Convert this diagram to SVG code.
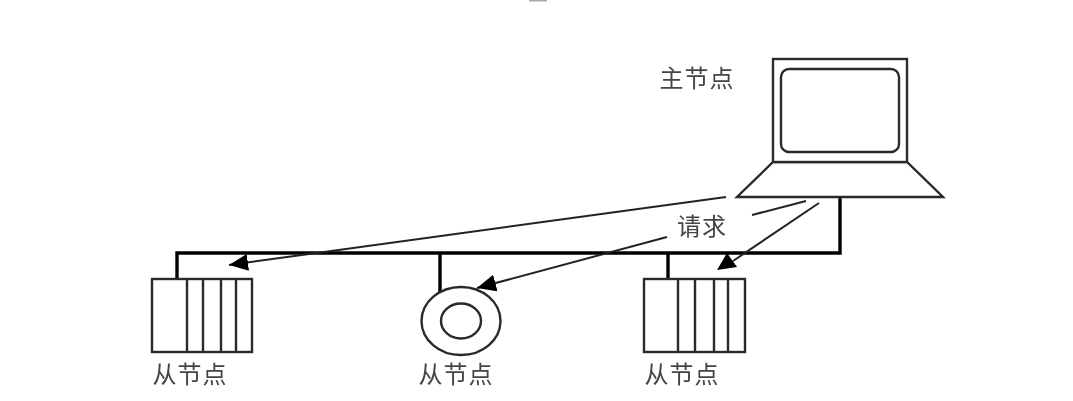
<svg xmlns="http://www.w3.org/2000/svg" width="1073" height="401" viewBox="0 0 1073 401">
  <style>
    .o { fill: #fff; stroke: #2a2a2a; stroke-width: 2.4; }
    .f { fill: none; stroke: #2a2a2a; stroke-width: 2.4; }
    .bus { fill: none; stroke: #000; stroke-width: 3.4; }
    .arr { fill: none; stroke: #222; stroke-width: 2; }
    text { font-family: "Noto Sans CJK SC", "Noto Sans", sans-serif; font-size: 24px; letter-spacing: 1px; fill: #444; text-anchor: middle; }
  </style>
  <defs>
    <filter id="soft" x="-5%" y="-5%" width="110%" height="110%"><feGaussianBlur stdDeviation="0.6"/></filter>
    <marker id="head" markerUnits="userSpaceOnUse" markerWidth="20" markerHeight="18" refX="19" refY="8.5" orient="auto">
      <path d="M0 0L19 8.5L0 17Z" fill="#000"/>
    </marker>
  </defs>
  <rect width="1073" height="401" fill="#fff"/>
  <g filter="url(#soft)">
    <rect x="529" y="0" width="18" height="1.5" fill="#aaa"/>
    <g id="connectors">
      <path class="bus" d="M840 197V253H177V279M440 253V293M668 253V279"/>
      <path class="arr" d="M726 197L229 265" marker-end="url(#head)"/>
      <path class="arr" d="M806 201L752 215"/>
      <path class="arr" d="M667 237L477 288" marker-end="url(#head)"/>
      <path class="arr" d="M819 203L733 261"/>
      <path d="M727 253L717 270L737 267Z" fill="#000"/>
    </g>
    <g id="master">
      <path class="o" d="M773 162L907 162L943 197H737Z"/>
      <rect class="o" x="773" y="59" width="134" height="103"/>
      <rect class="f" x="781" y="69" width="118" height="83" rx="8"/>
      <text x="697" y="87">主节点</text>
    </g>
    <g id="slave-1">
      <rect class="o" x="152" y="279" width="100" height="73"/>
      <path class="f" d="M187 279V352M203 279V352M221 279V352M236 279V352"/>
      <text x="190" y="383">从节点</text>
    </g>
    <g id="slave-2">
      <ellipse class="o" cx="461" cy="321" rx="39.5" ry="34"/>
      <ellipse class="f" cx="461" cy="321" rx="20" ry="17.5"/>
      <text x="456" y="383">从节点</text>
    </g>
    <g id="slave-3">
      <rect class="o" x="644" y="279" width="101" height="73"/>
      <path class="f" d="M678 279V352M695 279V352M714 279V352M728 279V352"/>
      <text x="682" y="383">从节点</text>
    </g>
    <text id="request" x="702" y="235">请求</text>
  </g>
</svg>
